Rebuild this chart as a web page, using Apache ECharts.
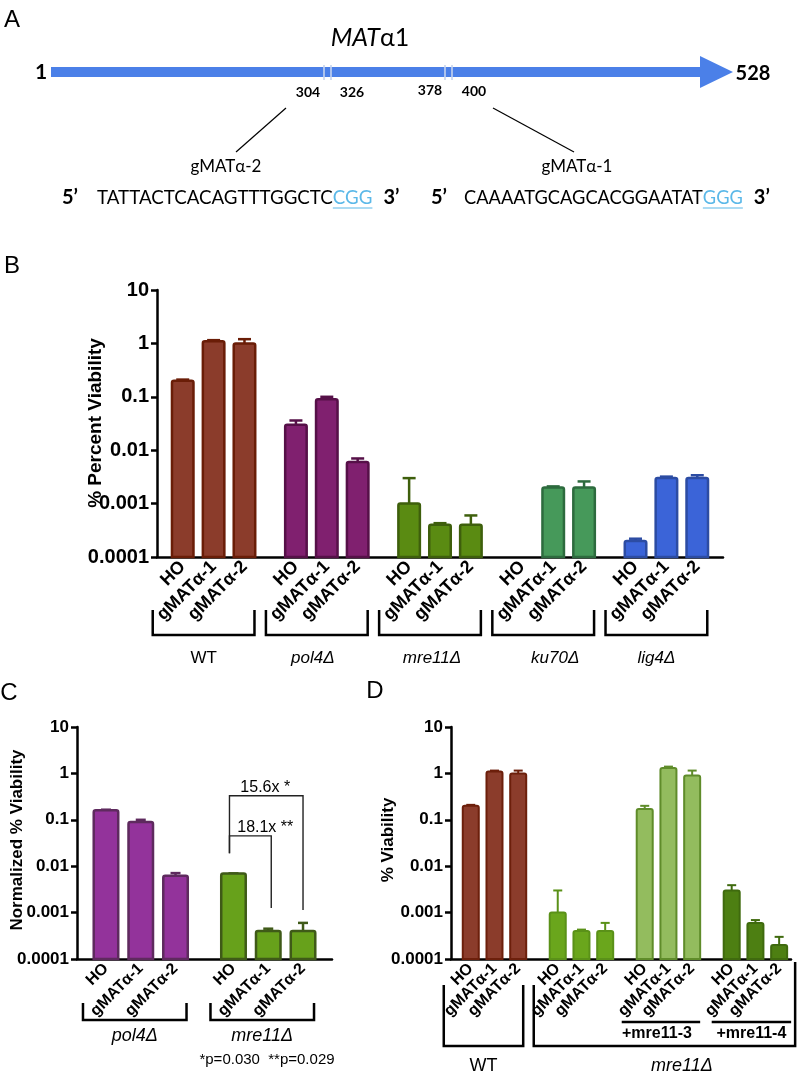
<!DOCTYPE html>
<html><head><meta charset="utf-8">
<script src="https://cdn.jsdelivr.net/npm/echarts@6/dist/echarts.min.js"></script>
<style>html,body{margin:0;padding:0;background:#fff}#c{width:800px;height:1072px}</style>
</head><body><div id="c"></div>
<script>
// ---------- data ----------
const guides = ['HO', 'gMATα-1', 'gMATα-2'];
const yTickLabels = ['0.0001', '0.001', '0.01', '0.1', '1', '10'];
const Y_MIN = 0.0001, Y_MAX = 10;

// Panel B
const strainsB = ['WT', 'pol4Δ', 'mre11Δ', 'ku70Δ', 'lig4Δ'];
const meanB = [0.2, 1.1, 1.0, 0.03, 0.09, 0.006, 0.001, 0.0004, 0.0004, null, 0.002, 0.002, 0.0002, 0.003, 0.003];
const errTopB = [0.21, 1.15, 1.2, 0.036, 0.1, 0.007, 0.003, 0.00043, 0.0006, null, 0.0021, 0.0026, 0.00022, 0.0032, 0.0034];
const fillB = ['#8b3c2b', '#80206f', '#5a8b12', '#46995a', '#3b64d8'];
const edgeB = ['#6a1d07', '#561048', '#3e5f0c', '#2d6b3e', '#2c4ca3'];

// Panel C
const strainsC = ['pol4Δ', 'mre11Δ'];
const meanC = [0.16, 0.09, 0.0062, 0.007, 0.0004, 0.0004];
const errTopC = [0.165, 0.1, 0.0071, 0.007, 0.00045, 0.0006];
const fillC = ['#93339b', '#67a11b'];
const edgeC = ['#5e2a5e', '#3f5a18'];
const sigC = [
  { a: 0, b: 2, level: 0.33, dropA: 0.019, dropB: 0.00114, text: '15.6x *' },
  { a: 0, b: 1, level: 0.045, dropA: 0.019, dropB: 0.00126, text: '18.1x **' }
];
const pNote = '*p=0.030  **p=0.029';

// Panel D
const groupsD = ['WT', 'mre11Δ', '+mre11-3', '+mre11-4'];
const meanD = [0.2, 1.1, 1.0, 0.001, 0.0004, 0.0004, 0.17, 1.3, 0.9, 0.003, 0.0006, 0.0002];
const errTopD = [0.21, 1.15, 1.15, 0.003, 0.00043, 0.0006, 0.2, 1.4, 1.15, 0.0039, 0.00069, 0.0003];
const fillD = ['#8b3c2b', '#6aa61c', '#93bc5e', '#4d7f12'];
const edgeD = ['#6c1f0b', '#5a9118', '#5f8c2a', '#3f6a0e'];

// Panel A
const geneName = ['MAT', 'α1'];
const geneStart = '1', geneEnd = '528';
const siteLabels = ['304', '326', '378', '400'];
const seqLeft = 'TATTACTCACAGTTTGGCTC', pamLeft = 'CGG';
const seqRight = 'CAAAATGCAGCACGGAATAT', pamRight = 'GGG';
const guideLeft = 'gMATα-2', guideRight = 'gMATα-1';

// ---------- layout helpers ----------
function slotLayout(nGroups, padL, padR) {
  const cats = [], idx = [];
  for (let i = 0; i < padL; i++) cats.push('');
  for (let g = 0; g < nGroups; g++) {
    if (g > 0) for (let k = 0; k < 4; k++) cats.push('');
    guides.forEach((name, b) => {
      if (b > 0) { cats.push(''); cats.push(''); }
      idx.push(cats.length); cats.push(name);
    });
  }
  for (let i = 0; i < padR; i++) cats.push('');
  return { cats, idx };
}
const L_B = slotLayout(strainsB.length, 2, 2);
const L_C = slotLayout(strainsC.length, 2, 2);
const L_D = slotLayout(groupsD.length, 2, 1);

const SANS = '"Liberation Sans", Arial, sans-serif';
const showCat = (i, v) => v !== '';

function xAxisCfg(k, layout, fs) {
  return {
    type: 'category', gridIndex: k, data: layout.cats, boundaryGap: true,
    axisLine: { onZero: false, lineStyle: { color: '#000', width: 2.5 } },
    axisTick: { alignWithLabel: true, interval: showCat, length: 6, lineStyle: { color: '#000', width: 2.5 } },
    axisLabel: { interval: showCat, rotate: 45, margin: 7, color: '#000', fontWeight: 'bold', fontSize: fs, fontFamily: SANS },
    splitLine: { show: false }
  };
}
function yAxisCfg(k, fs) {
  return {
    type: 'log', gridIndex: k, logBase: 10, min: Y_MIN, max: Y_MAX, splitNumber: 5,
    axisLine: { show: true, lineStyle: { color: '#000', width: 2.5 } },
    axisTick: { show: true, length: 6, lineStyle: { color: '#000', width: 2.5 } },
    axisLabel: { margin: 8, color: '#000', fontWeight: 'bold', fontSize: fs, fontFamily: SANS,
      formatter: v => yTickLabels[Math.round(Math.log10(v)) + 4] },
    splitLine: { show: false }, minorTick: { show: false }
  };
}
function barSeries(k, layout, means, errs, fills, edges, barW, lw, capW) {
  const data = [];
  means.forEach((m, i) => { if (m != null) data.push([layout.idx[i], m, errs[i], Math.floor(i / 3)]); });
  return {
    type: 'custom', xAxisIndex: k, yAxisIndex: k, data,
    encode: { x: 0, y: [1, 2] }, silent: true,
    renderItem(params, api) {
      const x = api.value(0), v = api.value(1), e = api.value(2), g = api.value(3);
      const top = api.coord([x, v]), base = api.coord([x, Y_MIN]), et = api.coord([x, e]);
      const cx = top[0];
      return { type: 'group', children: [
        { type: 'line', shape: { x1: cx, y1: top[1], x2: cx, y2: et[1] }, style: { stroke: edges[g], lineWidth: lw } },
        { type: 'line', shape: { x1: cx - capW / 2, y1: et[1], x2: cx + capW / 2, y2: et[1] }, style: { stroke: edges[g], lineWidth: lw } },
        { type: 'rect', shape: { x: cx - barW / 2, y: top[1], width: barW, height: base[1] - top[1], r: [2, 2, 0, 0] },
          style: { fill: fills[g], stroke: edges[g], lineWidth: lw } }
      ] };
    }
  };
}

const chart = echarts.init(document.getElementById('c'), null, { renderer: 'canvas', width: 800, height: 1072 });
chart.setOption({
  animation: false,
  backgroundColor: '#fff',
  grid: [
    { left: 157, top: 290, width: 566, height: 267, containLabel: false, outerBoundsMode: 'none' },
    { left: 77, top: 727, width: 255, height: 232, containLabel: false, outerBoundsMode: 'none' },
    { left: 451, top: 727, width: 340, height: 232, containLabel: false, outerBoundsMode: 'none' }
  ],
  xAxis: [xAxisCfg(0, L_B, 18), xAxisCfg(1, L_C, 16), xAxisCfg(2, L_D, 16)],
  yAxis: [yAxisCfg(0, 20), yAxisCfg(1, 17), yAxisCfg(2, 17)],
  series: [
    barSeries(0, L_B, meanB, errTopB, fillB, edgeB, 21.5, 2.5, 13),
    barSeries(1, L_C, meanC, errTopC, fillC, edgeC, 24.5, 2.5, 10),
    barSeries(2, L_D, meanD, errTopD, fillD, edgeD, 16, 2, 9)
  ]
});

// ---------- annotations ----------
const px = (k, i) => chart.convertToPixel({ xAxisIndex: k }, i);
const py = (k, v) => chart.convertToPixel({ yAxisIndex: k }, v);
const G = [];
function text(x, y, t, font, extra) {
  G.push(Object.assign({ type: 'text', x, y, style: Object.assign({ text: t, fill: '#000', font, align: 'center', verticalAlign: 'middle' }, (extra && extra.style) || {}) },
    extra && extra.rot ? { rotation: extra.rot } : {}));
}
function poly(points, w, color) {
  G.push({ type: 'polyline', shape: { points }, style: { stroke: color || '#000', lineWidth: w, fill: 'none' } });
}
function line(x1, y1, x2, y2, w, color) {
  G.push({ type: 'line', shape: { x1, y1, x2, y2 }, style: { stroke: color || '#000', lineWidth: w } });
}

// Panel letters
text(12, 20, 'A', '24px ' + SANS);
text(12, 266, 'B', '24px ' + SANS);
text(9, 693, 'C', '24px ' + SANS);
text(375, 691, 'D', '24px ' + SANS);

// Panel A
const LATO = 'Lato, "Open Sans", sans-serif';
const blue = '#4b80e8';
G.push({ type: 'rect', shape: { x: 51, y: 67, width: 651, height: 10 }, style: { fill: blue } });
G.push({ type: 'polygon', shape: { points: [[700, 56], [733, 72], [700, 88]] }, style: { fill: blue } });
[324, 331, 445, 452].forEach(x => line(x, 65, x, 80, 1.6, '#c6d4ee'));
G.push({ type: 'text', x: 370, y: 38, style: { text: '{i|' + geneName[0] + '}{n|' + geneName[1] + '}', align: 'center', verticalAlign: 'middle',
  rich: { i: { fontStyle: 'italic', fontSize: 25, fontFamily: LATO, fill: '#000' }, n: { fontSize: 25, fontFamily: LATO, fill: '#000' } } } });
text(41, 72, geneStart, 'bold 21px ' + LATO);
text(753, 74, geneEnd, 'bold 20px ' + LATO);
text(308, 92, siteLabels[0], 'bold 14px ' + LATO);
text(352, 92, siteLabels[1], 'bold 14px ' + LATO);
text(430, 90, siteLabels[2], 'bold 14px ' + LATO);
text(474, 91, siteLabels[3], 'bold 14px ' + LATO);
line(286, 108, 236, 152, 1.2);
line(493, 108, 574, 152, 1.2);
text(226, 167, guideLeft, '17px ' + LATO);
text(577, 167, guideRight, '17px ' + LATO);

const mctx = document.createElement('canvas').getContext('2d');
function fitSize(t, width, family) { mctx.font = '20px ' + family; return 20 * width / mctx.measureText(t).width; }
function measure(t, font) { mctx.font = font; return mctx.measureText(t).width; }
function seqRow(x5, xs, seqW, seq, pam) {
  const y = 198;
  const seqFont = fitSize(seq, seqW, LATO).toFixed(2) + 'px ' + LATO;
  G.push({ type: 'text', x: x5, y, style: { text: '5’', font: 'bold 20px ' + LATO, fill: '#000', align: 'left', verticalAlign: 'middle' } });
  G.push({ type: 'text', x: xs, y, style: { text: seq, font: seqFont, fill: '#000', align: 'left', verticalAlign: 'middle' } });
  const w = measure(seq, seqFont), pw = measure(pam, seqFont);
  G.push({ type: 'text', x: xs + w, y, style: { text: pam, font: seqFont, fill: '#5bb8e8', align: 'left', verticalAlign: 'middle' } });
  line(xs + w, y + 10, xs + w + pw, y + 10, 1.2, '#5bb8e8');
  G.push({ type: 'text', x: xs + w + pw + 11, y, style: { text: '3’', font: 'bold 20px ' + LATO, fill: '#000', align: 'left', verticalAlign: 'middle' } });
}
seqRow(62, 97, 236, seqLeft, pamLeft);
seqRow(431, 464, 239, seqRight, pamRight);

// Panel B extras
text(96, 423, '% Percent Viability', 'bold 19px ' + SANS, { rot: Math.PI / 2 });
const labelShiftB = [0, -4, 2, 12, 0];
strainsB.forEach((s, g) => {
  const x1 = px(0, L_B.idx[g * 3]) - 30, x2 = px(0, L_B.idx[g * 3 + 2]) + 10;
  poly([[x1, 610], [x1, 635], [x2, 635], [x2, 610]], 2.5);
  text((x1 + x2) / 2 + labelShiftB[g], 658, s, (g === 0 ? '' : 'italic ') + '17px ' + SANS);
});

// Panel C extras
text(17, 840, 'Normalized % Viability', 'bold 17px ' + SANS, { rot: Math.PI / 2 });
strainsC.forEach((s, g) => {
  const x1 = px(1, L_C.idx[g * 3]) - 23, x2 = px(1, L_C.idx[g * 3 + 2]) + 11;
  poly([[x1, 1003], [x1, 1020], [x2, 1020], [x2, 1003]], 2.5);
  text((x1 + x2) / 2, 1036, s, 'italic 18px ' + SANS);
});
const mreBase = 3;
const sigMid = (px(1, L_C.idx[mreBase]) + px(1, L_C.idx[mreBase + 2])) / 2;
sigC.forEach(s => {
  const xa = px(1, L_C.idx[mreBase + s.a]) - 4, xb = px(1, L_C.idx[mreBase + s.b]) + (s.b === 1 ? 3 : 0);
  const yl = py(1, s.level);
  poly([[xa, py(1, s.dropA)], [xa, yl], [xb, yl], [xb, py(1, s.dropB)]], 1.4, '#222');
  text(sigMid - 3, yl - 8, s.text, '16px ' + SANS);
});
text(267, 1060, pNote, '15px ' + SANS);

// Panel D extras
text(388, 840, '% Viability', 'bold 17px ' + SANS, { rot: Math.PI / 2 });
{
  const wx1 = px(2, L_D.idx[0]) - 27, wx2 = px(2, L_D.idx[2]) + 5;
  poly([[wx1, 985], [wx1, 1046], [wx2, 1046], [wx2, 985]], 2.5);
  text((wx1 + wx2) / 2, 1066, groupsD[0], '18px ' + SANS);
  const mx1 = px(2, L_D.idx[3]) - 24, mx2 = px(2, L_D.idx[11]) + 16;
  poly([[mx1, 985], [mx1, 1046], [mx2, 1046], [mx2, 962]], 2.5);
  text(682, 1066, groupsD[1], 'italic 18px ' + SANS);
  const a1 = px(2, L_D.idx[6]) - 23, a2 = px(2, L_D.idx[8]) + 8;
  line(a1, 1022, a2, 1022, 2.5);
  text((a1 + a2) / 2 - 4, 1034, groupsD[2], 'bold 16px ' + SANS);
  const b1 = px(2, L_D.idx[9]) - 20, b2 = px(2, L_D.idx[11]) + 12;
  line(b1, 1022, b2, 1022, 2.5);
  text((b1 + b2) / 2, 1034, groupsD[3], 'bold 16px ' + SANS);
}

chart.setOption({ graphic: { elements: G } });
</script></body></html>
